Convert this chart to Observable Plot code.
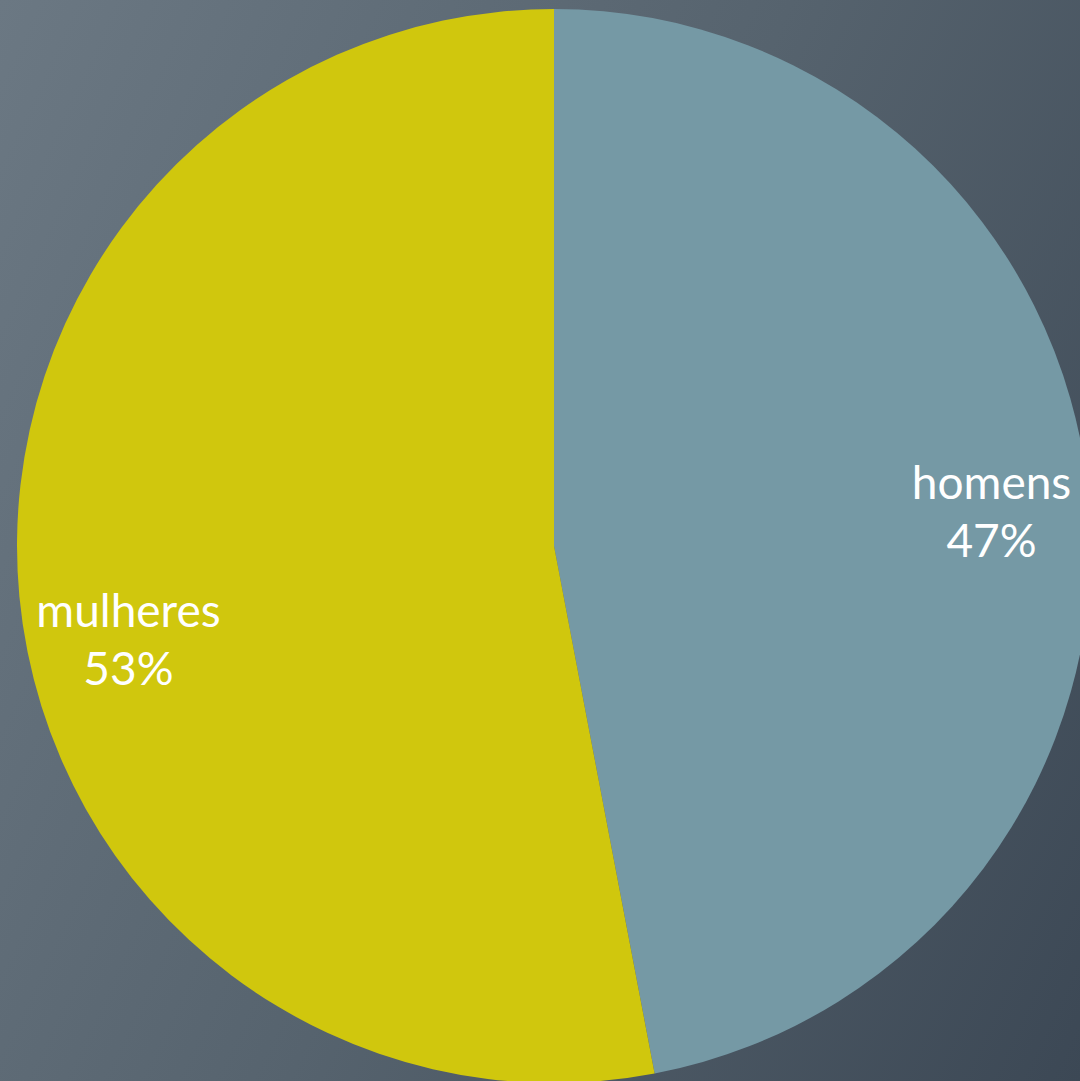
<!DOCTYPE html>
<html><head><meta charset="utf-8">
<script src="https://cdn.jsdelivr.net/npm/d3@7"></script>
<script src="https://cdn.jsdelivr.net/npm/@observablehq/plot@0.6"></script>
<style>
html,body{margin:0;padding:0;width:1080px;height:1081px;overflow:hidden;}
body{background:linear-gradient(115deg,#6b7883 0%,#56636e 50%,#3c4855 100%);}
#chart svg{display:block;}
</style></head><body><div id="chart"></div>
<script>
const categories = ["homens", "mulheres"];
const shares = [47, 53];
const sliceColors = ["#7599a5", "#d0c70d"];

const data = categories.map((c, i) => ({category: c, share: shares[i], color: sliceColors[i]}));
const arcs = d3.pie().sort(null).value(d => d.share)(data);

// label anchor: along mid-angle, in unit-circle data coordinates
const labelRadius = 0.81;
const labelNudge = {homens: {dx: 4, dy: 4}, mulheres: {dx: 7, dy: 50}};
const labels = arcs.map(a => {
  const m = (a.startAngle + a.endAngle) / 2;
  return {
    x: labelRadius * Math.sin(m),
    y: labelRadius * Math.cos(m),
    text: `${a.data.category}\n${a.data.share}%`,
    category: a.data.category
  };
});

const pieMark = (index, scales) => {
  const cx = scales.x(0), cy = scales.y(0);
  const r = Math.abs(scales.x(1) - scales.x(0));
  const arc = d3.arc().innerRadius(0).outerRadius(r);
  const g = d3.create("svg:g").attr("transform", `translate(${cx},${cy})`);
  g.selectAll("path").data(arcs).join("path")
    .attr("d", arc)
    .attr("fill", d => d.data.color);
  return g.node();
};

const chart = Plot.plot({
  width: 1080,
  height: 1081,
  margin: 0,
  style: {background: "transparent", overflow: "hidden"},
  x: {domain: [-1, 1], range: [17, 1091], axis: null},
  y: {domain: [-1, 1], range: [1083, 9], axis: null},
  marks: [
    pieMark,
    ...labels.map(l => Plot.text([l], {
      x: "x", y: "y", text: "text",
      dx: labelNudge[l.category].dx,
      dy: labelNudge[l.category].dy,
      fill: "white",
      fontSize: 46,
      fontFamily: "Lato",
      lineHeight: 1.26,
      textAnchor: "middle",
      lineAnchor: "middle"
    }))
  ]
});
document.getElementById("chart").appendChild(chart);
</script>
</body></html>
